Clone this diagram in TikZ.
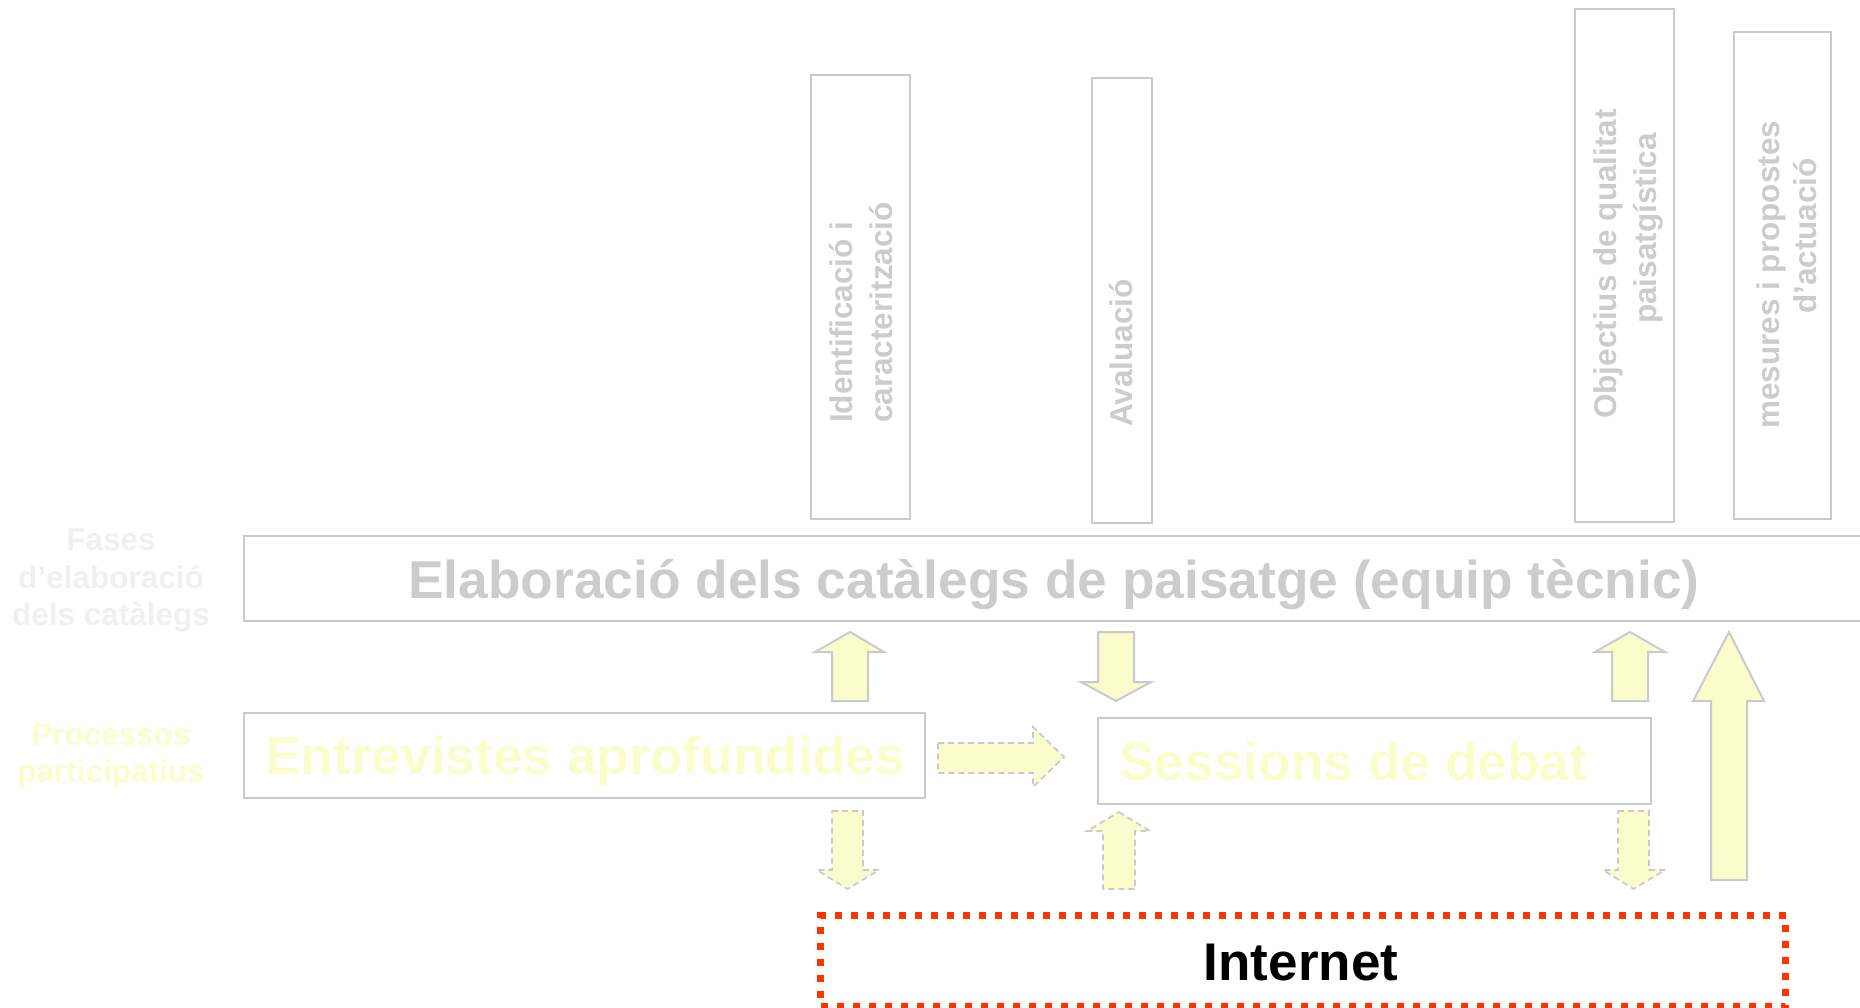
\documentclass[tikz,border=0pt]{standalone}
\usepackage{fontspec}
\setmainfont{Liberation Sans}
\definecolor{boxgray}{HTML}{CACACA}
\definecolor{txtgray}{HTML}{CCCCCC}
\definecolor{faintgray}{HTML}{F0F0F0}
\definecolor{paleyellow}{HTML}{FAFCCC}
\definecolor{txtyellow}{HTML}{FAFDCC}
\definecolor{netred}{HTML}{FF3300}
\begin{document}
\begin{tikzpicture}[x=1pt,y=-1pt,
  frame/.style={draw=boxgray, line width=2pt, inner sep=0pt, anchor=north west},
  bigtext/.style={font=\fontsize{53.3}{60}\selectfont\bfseries, inner sep=0pt, anchor=base west},
  vtext/.style={font=\fontsize{31.5}{38}\selectfont\bfseries, text=txtgray, rotate=90, anchor=base west, inner sep=0pt},
  sidetext/.style={font=\fontsize{31.5}{38}\selectfont\bfseries, anchor=base, inner sep=0pt},
  solidarrow/.style={fill=paleyellow, draw=boxgray, line width=2pt, line join=miter},
  dasharrow/.style={fill=paleyellow, draw=boxgray, line width=1.8pt, dash pattern=on 6pt off 4pt},
  netbox/.style={draw=netred, line width=7pt, dash pattern=on 7pt off 9pt, inner sep=0pt, anchor=north west}
]
\useasboundingbox (0,0) rectangle (1860,1008);
\clip (0,0) rectangle (1860,1008);

% vertical phase boxes
\node[frame, minimum width=99pt, minimum height=444pt] (ident) at (810,74) {};
\node[frame, minimum width=60pt, minimum height=445pt] (aval) at (1091,77) {};
\node[frame, minimum width=99pt, minimum height=513pt] (obj) at (1574,8) {};
\node[frame, minimum width=97pt, minimum height=487pt] (mes) at (1733,31) {};

\node[vtext] (identA) at (852,423) {Identificació i};
\node[vtext] (identB) at (892,423) {caracterització};
\node[vtext] (avalA) at (1132,427) {Avaluació};
\node[vtext] (objA) at (1616,419) {Objectius de qualitat};
\node[vtext] (objB) at (1656,324) {paisatgística};
\node[vtext] (mesA) at (1779,429) {mesures i propostes};
\node[vtext] (mesB) at (1816,314) {d’actuació};

% main box
\node[frame, minimum width=1660pt, minimum height=85pt] (main) at (243,535) {};
\node[bigtext, text=txtgray] (mainT) at (408,598) {Elaboració dels catàlegs de paisatge (equip tècnic)};

% side labels
\node[sidetext, text=faintgray] (fa) at (111,550) {Fases};
\node[sidetext, text=faintgray] (fb) at (111,588) {d’elaboració};
\node[sidetext, text=faintgray] (fc) at (111,625) {dels catàlegs};
\node[sidetext, text=txtyellow] (pa) at (111,745) {Processos};
\node[sidetext, text=txtyellow] (pb) at (111,782) {participatius};

% process boxes
\node[frame, minimum width=681pt, minimum height=85pt] (entr) at (243,712) {};
\node[bigtext, text=txtyellow] (entrT) at (265,774) {Entrevistes aprofundides};
\node[frame, minimum width=553pt, minimum height=86pt] (sess) at (1097,717) {};
\node[bigtext, text=txtyellow] (sessT) at (1119,780) {Sessions de debat};

% block arrows
\draw[solidarrow] (850,632) -- (884,652) -- (868,652) -- (868,701) -- (832,701) -- (832,652) -- (815,652) -- cycle;
\draw[solidarrow] (1098,632) -- (1134,632) -- (1134,682) -- (1151,682) -- (1116,701) -- (1081,682) -- (1098,682) -- cycle;
\draw[dasharrow] (938,743) -- (1033,743) -- (1033,727) -- (1064,757) -- (1033,787) -- (1033,773) -- (938,773) -- cycle;
\draw[dasharrow] (832,811) -- (863,811) -- (863,870) -- (879,870) -- (847.5,889) -- (817,870) -- (832,870) -- cycle;
\draw[dasharrow] (1119,812) -- (1150,831) -- (1135,831) -- (1135,889) -- (1103,889) -- (1103,831) -- (1087,831) -- cycle;
\draw[solidarrow] (1630,632) -- (1665,652) -- (1648,652) -- (1648,701) -- (1612,701) -- (1612,652) -- (1595,652) -- cycle;
\draw[dasharrow] (1618,811) -- (1649,811) -- (1649,870) -- (1665,870) -- (1633.5,889) -- (1603,870) -- (1618,870) -- cycle;
\draw[solidarrow] (1729,632) -- (1764,701) -- (1747,701) -- (1747,880) -- (1711,880) -- (1711,701) -- (1693,701) -- cycle;

% internet
\node[netbox, minimum width=965pt, minimum height=91pt] (inet) at (817,912) {};
\node[font=\fontsize{53}{60}\selectfont\bfseries, inner sep=0pt, anchor=base] (inetT) at (1301,980) {Internet};
\end{tikzpicture}
\end{document}
